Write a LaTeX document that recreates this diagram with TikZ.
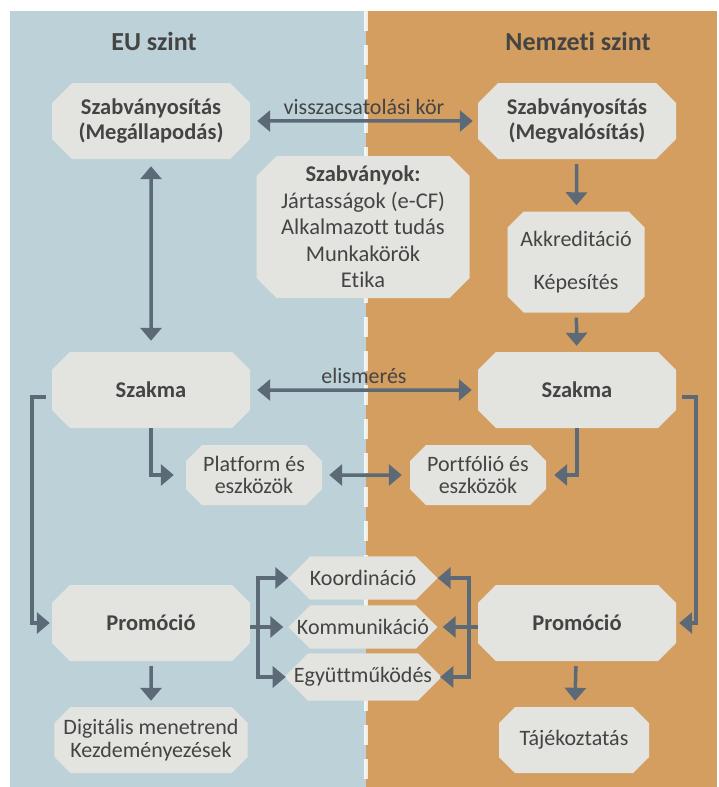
\documentclass[tikz,border=0pt]{standalone}
\usepackage{fontspec}
\setmainfont{Carlito}[Ligatures=NoCommon]
\usetikzlibrary{shapes.misc,arrows.meta}

\definecolor{eublue}{HTML}{BCD2D8}
\definecolor{natorange}{HTML}{D49E60}
\definecolor{boxgray}{HTML}{E3E3DF}
\definecolor{arrgray}{HTML}{5C6A78}
\definecolor{txtgray}{HTML}{444444}

\begin{document}
\begin{tikzpicture}[x=1pt,y=-1pt,
	every node/.style={font=\fontsize{22}{26.5}\selectfont, text=txtgray, align=center},
	box/.style={chamfered rectangle, chamfered rectangle xsep=10pt, chamfered rectangle ysep=10pt, fill=boxgray, inner sep=0pt},
	bigbox/.style={box, minimum width=198pt, minimum height=76pt, font=\fontsize{22.5}{25}\selectfont\bfseries},
	smallbox/.style={box, chamfered rectangle xsep=9pt, chamfered rectangle ysep=7pt, minimum width=136pt, minimum height=60pt, font=\fontsize{22}{22.5}\selectfont},
	hexbox/.style={box, chamfered rectangle xsep=8pt, chamfered rectangle ysep=14pt, minimum width=149pt, minimum height=27pt},
	arr/.style={draw=arrgray, line width=3.5pt, -{Triangle[width=21pt,length=13pt]}, shorten <=5pt, shorten >=6pt},
	dblarr/.style={arr, {Triangle[width=21pt,length=13pt]}-{Triangle[width=21pt,length=13pt]}}]

	\useasboundingbox (0,0) rectangle (718,787);

	% two levels
	\fill[eublue] (10,11) rectangle (366,787);
	\fill[natorange] (366,11) rectangle (717,787);
	\draw[white, line width=4pt, dash pattern=on 20pt off 14pt, opacity=0.8] (366,11) -- (366,787);

	\node[font=\fontsize{26}{28}\selectfont\bfseries] (ttlEU) at (154,41) {EU szint};
	\node[font=\fontsize{26}{28}\selectfont\bfseries] (ttlNat) at (578,41) {Nemzeti szint};

	% boxes
	\node[bigbox] (stdEU) at (151,121) {Szabványosítás\\(Megállapodás)};
	\node[bigbox] (stdNat) at (577,121) {Szabványosítás\\(Megvalósítás)};
	\node[box, minimum width=213pt, minimum height=142pt, font=\fontsize{22.5}{26.5}\selectfont] (stdList) at (363,227)
		{\textbf{Szabványok:}\\Jártasságok (e-CF)\\Alkalmazott tudás\\Munkakörök\\Etika};
	\node[box, chamfered rectangle xsep=8pt, chamfered rectangle ysep=8pt, minimum width=137pt, minimum height=101pt, font=\fontsize{22}{43}\selectfont] (akkr) at (576,262)
		{Akkreditáció\\Képesítés};
	\node[bigbox] (proEU) at (151,390) {Szakma};
	\node[bigbox] (proNat) at (577,390) {Szakma};
	\node[smallbox] (platf) at (254,475) {Platform és\\eszközök};
	\node[smallbox] (portf) at (478,475) {Portfólió és\\eszközök};
	\node[bigbox] (promEU) at (151,623) {Promóció};
	\node[bigbox] (promNat) at (577,623) {Promóció};
	\node[hexbox] (koord) at (363,578) {Koordináció};
	\node[hexbox] (komm) at (363,627) {Kommunikáció};
	\node[hexbox] (egy) at (363,677) {Együttműködés};
	\node[smallbox, minimum width=187pt, minimum height=66pt] (digit) at (151,740)
		{Digitális menetrend\\Kezdeményezések};
	\node[smallbox, minimum width=150pt, minimum height=66pt] (info) at (574,740) {Tájékoztatás};

	\coordinate (forkL) at (258,628);
	\coordinate (forkR) at (469,628);

	% connectors
	\draw[dblarr, shorten <=7pt, shorten >=5pt] (stdEU) -- node[above=1pt] {visszacsatolási kör} (stdNat);
	\draw[dblarr, shorten <=7pt, shorten >=11pt] (stdEU) -- (proEU);
	\draw[arr] (stdNat) -- (akkr);
	\draw[arr] (akkr) -- (proNat);
	\draw[dblarr, shorten <=7pt, shorten >=6pt] (proEU) -- node[above=1pt] {elismerés} (proNat);
	\draw[arr, shorten <=0pt, shorten >=12pt] (proEU.south) |- (platf.west);
	\draw[arr, shorten <=0pt, shorten >=8pt] (proNat.south) |- (portf.east);
	\draw[dblarr, shorten <=7pt, shorten >=8pt] (platf) -- (portf);
	\draw[arr, shorten <=6pt, shorten >=2pt] ([yshift=-7pt]proEU.west) -- +(-20pt,0) |- (promEU.west);
	\draw[arr, shorten <=6pt, shorten >=3pt] ([yshift=-7pt]proNat.east) -- +(20pt,0) |- (promNat.east);
	\draw[arr, shorten <=0pt, shorten >=5pt] (promEU.east |- komm.west) -- (komm.west);
	\draw[arr, shorten <=-1.75pt, shorten >=0pt] (forkL) |- (koord.west);
	\draw[arr, shorten <=-1.75pt, shorten >=0pt] (forkL) |- (egy.west);
	\draw[arr, shorten <=0pt, shorten >=5pt] (promNat.west |- komm.east) -- (komm.east);
	\draw[arr, shorten <=-1.75pt, shorten >=0pt] (forkR) |- (koord.east);
	\draw[arr, shorten <=-1.75pt, shorten >=0pt] (forkR) |- (egy.east);
	\draw[arr] (promEU) -- (digit);
	\draw[arr] (promNat) -- (info);

\end{tikzpicture}
\end{document}
